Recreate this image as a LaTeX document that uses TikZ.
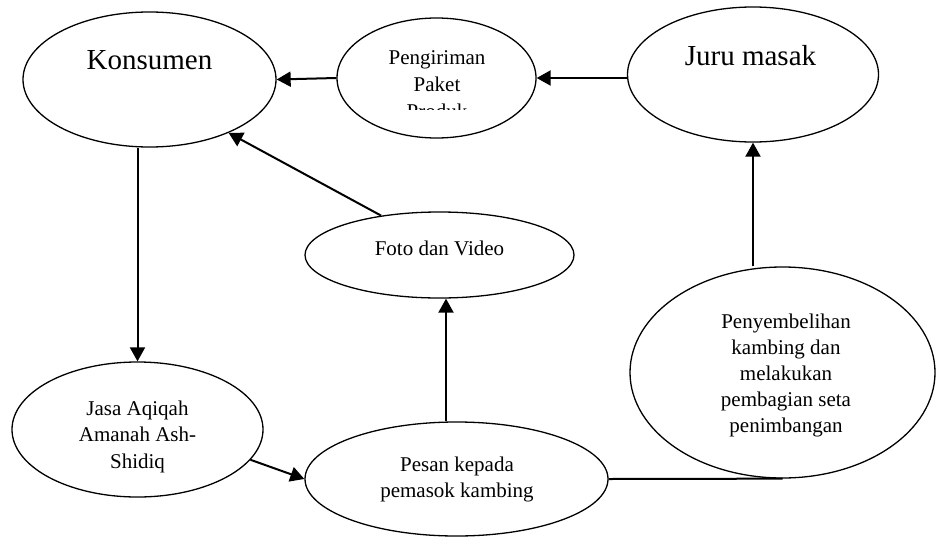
\documentclass[tikz,border=0pt]{standalone}
\usepackage{fontspec}
\setmainfont{Liberation Serif}
\usetikzlibrary{shapes.geometric,arrows.meta}
\tikzset{
  ell/.style={ellipse, draw=black, line width=1.3pt, inner sep=0pt, fill=white},
  txt/.style={inner sep=0pt, align=center, font=\fontsize{21}{26.7}\selectfont},
  bigtxt/.style={inner sep=0pt, anchor=base, font=\fontsize{29}{34}\selectfont},
  arr/.style={line width=2pt, -{Triangle[length=14pt,width=15pt]}},
  ln/.style={line width=2pt}
}
\begin{document}
\begin{tikzpicture}[x=1pt,y=-1pt]
\fill[white] (0,0) rectangle (936,538);
\useasboundingbox (0,0) rectangle (936,538);
% ellipses
\node[ell, minimum width=253pt, minimum height=135pt] (ks) at (149.5,79.5) {};
\node[ell, minimum width=199pt, minimum height=120pt] (pk) at (436.5,78) {};
\node[ell, minimum width=251pt, minimum height=135pt] (jm) at (753,74.5) {};
\node[ell, minimum width=269pt, minimum height=86pt] (fv) at (439.5,255) {};
\node[ell, minimum width=305pt, minimum height=211pt] (py) at (782.5,372.5) {};
\node[ell, minimum width=251pt, minimum height=135pt] (ja) at (137.5,429.5) {};
\node[ell, minimum width=303pt, minimum height=114pt] (pe) at (456.5,479) {};
% texts
\node[bigtxt] (tks) at (149.5,69) {Konsumen};
\node[bigtxt] (tjm) at (750.5,65) {Juru masak};
\node[txt, anchor=base] (tfv) at (439.5,255) {Foto dan Video};
\begin{scope}
\clip (300,0) rectangle (580,109);
\node[txt, anchor=north] (tpk) at (437,46.1) {\strut Pengiriman\\\strut Paket\\\strut Produk};
\end{scope}
\node[txt, anchor=north] (tja) at (137.5,396.3) {\strut Jasa Aqiqah\\\strut Amanah Ash-\\\strut Shidiq};
\node[txt, anchor=north] (tpe) at (457,452.2) {\strut Pesan kepada\\\strut pemasok kambing};
\node[txt, anchor=north, font=\fontsize{21}{26}\selectfont] (tpy) at (786,309.8) {\strut Penyembelihan\\\strut kambing dan\\\strut melakukan\\\strut pembagian seta\\\strut penimbangan};
% connectors
\draw[arr] (pk.east -| jm.west) -- (pk.east);
\draw[arr] (pk.west) -- (ks.east);
\draw[arr] (fv.146.7) -- (ks.-34.5);
\draw[arr] (ks.south -| ja.north) -- (ja.north);
\draw[arr] (ja.-15.6) -- (pe.west);
\draw[arr] ([xshift=6.5pt]fv.south |- pe.north) -- ([xshift=6.5pt]fv.south);
\draw[ln] (pe.east) -- (py.south);
\draw[arr] (jm.south |- py.north) -- (jm.south);
\end{tikzpicture}
\end{document}
